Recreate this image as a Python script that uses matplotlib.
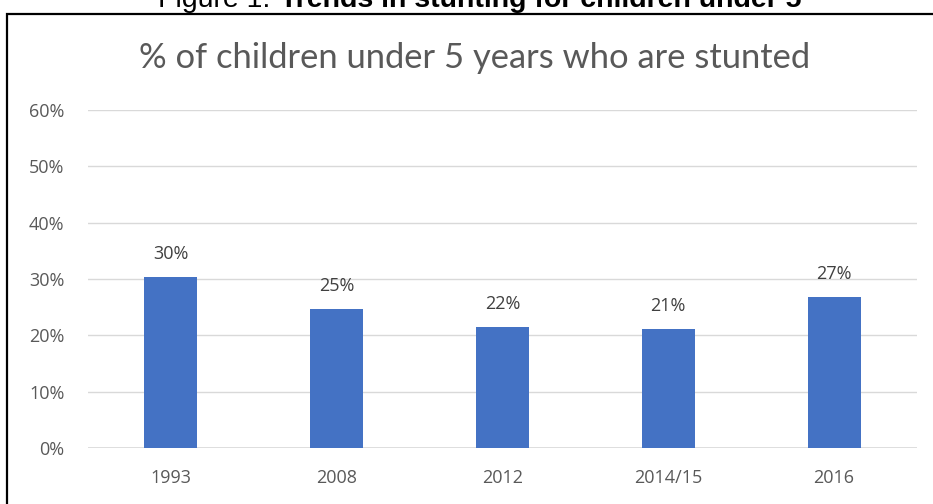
import matplotlib
matplotlib.use("Agg")
import matplotlib.pyplot as plt
from matplotlib.patches import Rectangle

years = ["1993", "2008", "2012", "2014/15", "2016"]
stunted = [30.4, 24.7, 21.5, 21.1, 26.8]
labels = ["30%", "25%", "22%", "21%", "27%"]
yticks = [0, 10, 20, 30, 40, 50, 60]

W, H = 933, 504
fig = plt.figure(figsize=(W / 100, H / 100), dpi=100)

# axes placed in pixel terms
left, right, bottom, top = 88, 917, 448, 110
ax = fig.add_axes([left / W, 1 - bottom / H, (right - left) / W, (bottom - top) / H])

x = range(len(years))
ax.bar(x, stunted, width=0.32, color="#4472C4", zorder=3)
for i, (v, lab) in enumerate(zip(stunted, labels)):
    ax.text(i, v + 2.5, lab, ha="center", va="bottom", fontsize=13,
            color="#404040", family="Open Sans")

ax.set_xlim(-0.5, len(years) - 0.5)
ax.set_ylim(0, 60)
ax.set_yticks(yticks)
ax.set_yticklabels([f"{t}%" for t in yticks], family="Open Sans", fontsize=13, color="#595959")
ax.set_xticks(list(x))
ax.set_xticklabels(years, family="Open Sans", fontsize=13, color="#595959")
ax.tick_params(axis="y", length=0, pad=17)
ax.tick_params(axis="x", length=0, pad=15)
ax.grid(axis="y", color="#D9D9D9", linewidth=1, zorder=0)
for s in ax.spines.values():
    s.set_visible(False)
ax.axhline(0, color="#D9D9D9", linewidth=1.2, zorder=2)

# chart title
fig.text(475 / W, 1 - 58 / H, "% of children under 5 years who are stunted",
         ha="center", va="center", fontsize=24.8, color="#595959", family="Lato")

# caption cut off at the top of the image
fig.text(278 / W, 1 - 7 / H, "Figure 1: ", ha="right", va="baseline",
         fontsize=20.5, family="Liberation Sans", color="black")
fig.text(280 / W, 1 - 7 / H, "Trends in stunting for children under 5", ha="left",
         va="baseline", fontsize=20.5, family="Liberation Sans", weight="bold", color="black")

# frame around the chart
fig.add_artist(Rectangle((7.5 / W, -0.1), 1.2, 1 - 13.5 / H + 0.1, transform=fig.transFigure,
                         fill=False, edgecolor="black", linewidth=1.6))

fig.savefig("out.png", dpi=100)
